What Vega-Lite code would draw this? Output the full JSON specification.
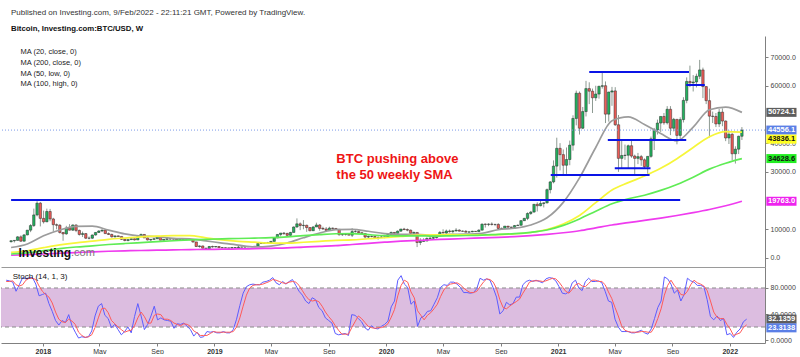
{
"$schema": "https://vega.github.io/schema/vega-lite/v6.json",
"background": "white",
"padding": {"left": 0, "top": 9, "right": 0, "bottom": 0},
"autosize": {"type": "pad"},
"spacing": 0,
"config": {"font": "Liberation Sans", "view": {"stroke": null}},
"title": {"text": "Published on Investing.com, 9/Feb/2022 - 22:11:21 GMT, Powered by TradingView.", "subtitle": "Bitcoin, Investing.com:BTC/USD, W", "anchor": "start", "frame": "group", "dx": 10, "fontSize": 8, "fontWeight": "normal", "color": "#333", "subtitleFontSize": 7.8, "subtitleFontWeight": "bold", "subtitleColor": "#111", "subtitlePadding": 8, "offset": 3, "font": "Liberation Sans", "subtitleFont": "Liberation Sans"},
"datasets": {
"candles": [
{"d":"2017-10-15","o":5680,"h":6190,"l":5400,"c":6000,"k":92,"s":90},
{"d":"2017-10-22","o":6000,"h":6200,"l":5400,"c":6130,"k":91,"s":90},
{"d":"2017-10-29","o":6130,"h":7600,"l":6100,"c":7360,"k":89,"s":91},
{"d":"2017-11-05","o":7360,"h":7880,"l":5600,"c":5860,"k":75,"s":85},
{"d":"2017-11-12","o":5860,"h":8300,"l":5700,"c":8040,"k":85,"s":83},
{"d":"2017-11-19","o":8040,"h":9740,"l":7900,"c":9700,"k":96,"s":85},
{"d":"2017-11-26","o":9700,"h":11800,"l":9000,"c":11300,"k":94,"s":92},
{"d":"2017-12-03","o":11300,"h":17200,"l":10800,"c":15000,"k":96,"s":95},
{"d":"2017-12-10","o":15000,"h":19800,"l":14500,"c":19100,"k":96,"s":95},
{"d":"2017-12-17","o":19100,"h":19500,"l":11000,"c":13800,"k":86,"s":93},
{"d":"2017-12-24","o":13800,"h":16500,"l":12000,"c":12600,"k":68,"s":83},
{"d":"2017-12-31","o":12600,"h":17200,"l":12500,"c":16200,"k":70,"s":75},
{"d":"2018-01-07","o":16200,"h":17100,"l":12800,"c":13600,"k":72,"s":70},
{"d":"2018-01-14","o":13600,"h":14000,"l":9200,"c":11600,"k":56,"s":66},
{"d":"2018-01-21","o":11600,"h":12000,"l":10000,"c":11400,"k":44,"s":57},
{"d":"2018-01-28","o":11400,"h":11800,"l":8500,"c":8900,"k":30,"s":43},
{"d":"2018-02-04","o":8900,"h":9000,"l":6000,"c":8400,"k":23,"s":32},
{"d":"2018-02-11","o":8400,"h":11200,"l":8100,"c":10400,"k":30,"s":28},
{"d":"2018-02-18","o":10400,"h":11800,"l":9600,"c":9700,"k":27,"s":27},
{"d":"2018-02-25","o":9700,"h":11700,"l":9400,"c":11500,"k":39,"s":32},
{"d":"2018-03-04","o":11500,"h":11700,"l":9000,"c":9600,"k":22,"s":29},
{"d":"2018-03-11","o":9600,"h":9900,"l":7800,"c":8200,"k":12,"s":24},
{"d":"2018-03-18","o":8200,"h":9200,"l":7300,"c":8500,"k":3,"s":12},
{"d":"2018-03-25","o":8500,"h":8700,"l":6600,"c":6900,"k":5,"s":7},
{"d":"2018-04-01","o":6900,"h":7500,"l":6500,"c":6900,"k":4,"s":4},
{"d":"2018-04-08","o":6900,"h":8200,"l":6600,"c":8000,"k":5,"s":5},
{"d":"2018-04-15","o":8000,"h":9000,"l":7800,"c":8900,"k":14,"s":8},
{"d":"2018-04-22","o":8900,"h":9700,"l":8700,"c":9400,"k":37,"s":19},
{"d":"2018-04-29","o":9400,"h":9950,"l":9000,"c":9700,"k":52,"s":34},
{"d":"2018-05-06","o":9700,"h":9900,"l":8400,"c":8500,"k":56,"s":48},
{"d":"2018-05-13","o":8500,"h":8900,"l":8000,"c":8200,"k":38,"s":49},
{"d":"2018-05-20","o":8200,"h":8500,"l":7100,"c":7400,"k":33,"s":42},
{"d":"2018-05-27","o":7400,"h":7800,"l":7100,"c":7700,"k":19,"s":30},
{"d":"2018-06-03","o":7700,"h":7800,"l":7400,"c":7500,"k":24,"s":25},
{"d":"2018-06-10","o":7500,"h":7500,"l":6300,"c":6500,"k":16,"s":20},
{"d":"2018-06-17","o":6500,"h":6800,"l":5800,"c":6100,"k":8,"s":16},
{"d":"2018-06-24","o":6100,"h":6400,"l":5800,"c":6400,"k":13,"s":12},
{"d":"2018-07-01","o":6400,"h":6800,"l":6300,"c":6700,"k":20,"s":14},
{"d":"2018-07-08","o":6700,"h":6800,"l":6100,"c":6300,"k":11,"s":15},
{"d":"2018-07-15","o":6300,"h":7500,"l":6300,"c":7400,"k":36,"s":22},
{"d":"2018-07-22","o":7400,"h":8500,"l":7400,"c":8200,"k":56,"s":34},
{"d":"2018-07-29","o":8200,"h":8300,"l":7000,"c":7000,"k":37,"s":43},
{"d":"2018-08-05","o":7000,"h":7100,"l":6100,"c":6300,"k":16,"s":36},
{"d":"2018-08-12","o":6300,"h":6600,"l":5900,"c":6500,"k":24,"s":26},
{"d":"2018-08-19","o":6500,"h":7000,"l":6300,"c":6700,"k":37,"s":26},
{"d":"2018-08-26","o":6700,"h":7400,"l":6600,"c":7300,"k":52,"s":38},
{"d":"2018-09-02","o":7300,"h":7400,"l":6200,"c":6200,"k":31,"s":40},
{"d":"2018-09-09","o":6200,"h":6600,"l":6100,"c":6500,"k":34,"s":39},
{"d":"2018-09-16","o":6500,"h":6800,"l":6200,"c":6700,"k":31,"s":32},
{"d":"2018-09-23","o":6700,"h":6800,"l":6400,"c":6600,"k":30,"s":32},
{"d":"2018-09-30","o":6600,"h":6700,"l":6500,"c":6600,"k":29,"s":30},
{"d":"2018-10-07","o":6600,"h":6700,"l":6100,"c":6300,"k":18,"s":26},
{"d":"2018-10-14","o":6300,"h":6800,"l":6300,"c":6500,"k":25,"s":24},
{"d":"2018-10-21","o":6500,"h":6600,"l":6400,"c":6400,"k":24,"s":22},
{"d":"2018-10-28","o":6400,"h":6500,"l":6300,"c":6400,"k":26,"s":25},
{"d":"2018-11-04","o":6400,"h":6600,"l":6300,"c":6400,"k":21,"s":24},
{"d":"2018-11-11","o":6400,"h":6500,"l":5300,"c":5600,"k":16,"s":21},
{"d":"2018-11-18","o":5600,"h":5600,"l":3800,"c":4000,"k":6,"s":14},
{"d":"2018-11-25","o":4000,"h":4400,"l":3600,"c":4200,"k":12,"s":11},
{"d":"2018-12-02","o":4200,"h":4300,"l":3300,"c":3400,"k":4,"s":7},
{"d":"2018-12-09","o":3400,"h":3600,"l":3200,"c":3250,"k":5,"s":7},
{"d":"2018-12-16","o":3250,"h":4200,"l":3200,"c":4000,"k":13,"s":7},
{"d":"2018-12-23","o":4000,"h":4300,"l":3600,"c":3850,"k":12,"s":10},
{"d":"2018-12-30","o":3850,"h":4100,"l":3700,"c":4000,"k":13,"s":13},
{"d":"2019-01-06","o":4000,"h":4100,"l":3500,"c":3600,"k":11,"s":12},
{"d":"2019-01-13","o":3600,"h":3800,"l":3500,"c":3550,"k":11,"s":12},
{"d":"2019-01-20","o":3550,"h":3650,"l":3450,"c":3500,"k":13,"s":12},
{"d":"2019-01-27","o":3500,"h":3550,"l":3400,"c":3450,"k":11,"s":12},
{"d":"2019-02-03","o":3450,"h":3700,"l":3400,"c":3650,"k":11,"s":12},
{"d":"2019-02-10","o":3650,"h":3700,"l":3550,"c":3620,"k":16,"s":13},
{"d":"2019-02-17","o":3620,"h":4200,"l":3600,"c":3800,"k":32,"s":20},
{"d":"2019-02-24","o":3800,"h":3900,"l":3700,"c":3800,"k":53,"s":34},
{"d":"2019-03-03","o":3800,"h":3950,"l":3700,"c":3900,"k":72,"s":52},
{"d":"2019-03-10","o":3900,"h":4000,"l":3850,"c":3980,"k":82,"s":69},
{"d":"2019-03-17","o":3980,"h":4100,"l":3900,"c":3990,"k":85,"s":80},
{"d":"2019-03-24","o":3990,"h":4150,"l":3900,"c":4100,"k":86,"s":84},
{"d":"2019-03-31","o":4100,"h":5300,"l":4100,"c":5050,"k":85,"s":85},
{"d":"2019-04-07","o":5050,"h":5450,"l":4950,"c":5100,"k":85,"s":85},
{"d":"2019-04-14","o":5100,"h":5400,"l":5000,"c":5300,"k":89,"s":86},
{"d":"2019-04-21","o":5300,"h":5600,"l":5100,"c":5300,"k":90,"s":88},
{"d":"2019-04-28","o":5300,"h":5900,"l":5200,"c":5800,"k":92,"s":90},
{"d":"2019-05-05","o":5800,"h":7000,"l":5700,"c":7000,"k":96,"s":93},
{"d":"2019-05-12","o":7000,"h":8300,"l":6900,"c":8200,"k":88,"s":92},
{"d":"2019-05-19","o":8200,"h":8700,"l":7500,"c":8700,"k":85,"s":90},
{"d":"2019-05-26","o":8700,"h":9000,"l":8000,"c":8550,"k":90,"s":88},
{"d":"2019-06-02","o":8550,"h":8800,"l":7500,"c":7900,"k":86,"s":87},
{"d":"2019-06-09","o":7900,"h":9100,"l":7500,"c":8900,"k":90,"s":89},
{"d":"2019-06-16","o":8900,"h":11000,"l":8900,"c":10800,"k":93,"s":90},
{"d":"2019-06-23","o":10800,"h":13800,"l":10500,"c":11900,"k":84,"s":89},
{"d":"2019-06-30","o":11900,"h":12400,"l":9700,"c":11300,"k":75,"s":84},
{"d":"2019-07-07","o":11300,"h":13200,"l":10000,"c":11400,"k":69,"s":76},
{"d":"2019-07-14","o":11400,"h":11600,"l":9100,"c":10600,"k":60,"s":68},
{"d":"2019-07-21","o":10600,"h":10800,"l":9300,"c":9500,"k":56,"s":62},
{"d":"2019-07-28","o":9500,"h":11100,"l":9400,"c":10800,"k":65,"s":60},
{"d":"2019-08-04","o":10800,"h":12300,"l":10800,"c":11500,"k":62,"s":61},
{"d":"2019-08-11","o":11500,"h":11800,"l":9500,"c":10300,"k":50,"s":59},
{"d":"2019-08-18","o":10300,"h":10900,"l":9800,"c":10100,"k":45,"s":52},
{"d":"2019-08-25","o":10100,"h":10800,"l":9400,"c":9600,"k":34,"s":43},
{"d":"2019-09-01","o":9600,"h":10900,"l":9600,"c":10400,"k":30,"s":36},
{"d":"2019-09-08","o":10400,"h":10600,"l":9900,"c":10300,"k":26,"s":30},
{"d":"2019-09-15","o":10300,"h":10400,"l":9900,"c":10000,"k":10,"s":22},
{"d":"2019-09-22","o":10000,"h":10100,"l":7800,"c":8100,"k":8,"s":15},
{"d":"2019-09-29","o":8100,"h":8500,"l":7700,"c":8200,"k":9,"s":9},
{"d":"2019-10-06","o":8200,"h":8700,"l":7800,"c":8300,"k":10,"s":9},
{"d":"2019-10-13","o":8300,"h":8400,"l":7900,"c":7950,"k":7,"s":9},
{"d":"2019-10-20","o":7950,"h":10400,"l":7300,"c":9200,"k":39,"s":19},
{"d":"2019-10-27","o":9200,"h":9800,"l":8900,"c":9200,"k":38,"s":28},
{"d":"2019-11-03","o":9200,"h":9500,"l":8700,"c":8800,"k":33,"s":37},
{"d":"2019-11-10","o":8800,"h":9100,"l":8400,"c":8500,"k":28,"s":33},
{"d":"2019-11-17","o":8500,"h":8600,"l":6800,"c":7300,"k":19,"s":27},
{"d":"2019-11-24","o":7300,"h":7800,"l":6600,"c":7500,"k":15,"s":21},
{"d":"2019-12-01","o":7500,"h":7800,"l":7200,"c":7500,"k":22,"s":19},
{"d":"2019-12-08","o":7500,"h":7700,"l":7100,"c":7100,"k":18,"s":18},
{"d":"2019-12-15","o":7100,"h":7500,"l":6400,"c":7200,"k":17,"s":19},
{"d":"2019-12-22","o":7200,"h":7700,"l":7000,"c":7300,"k":21,"s":19},
{"d":"2019-12-29","o":7300,"h":7400,"l":6900,"c":7350,"k":24,"s":21},
{"d":"2020-01-05","o":7350,"h":8500,"l":7300,"c":8200,"k":29,"s":25},
{"d":"2020-01-12","o":8200,"h":9200,"l":8100,"c":8900,"k":51,"s":35},
{"d":"2020-01-19","o":8900,"h":9000,"l":8200,"c":8600,"k":60,"s":47},
{"d":"2020-01-26","o":8600,"h":9600,"l":8500,"c":9350,"k":92,"s":68},
{"d":"2020-02-02","o":9350,"h":10100,"l":9100,"c":10100,"k":99,"s":84},
{"d":"2020-02-09","o":10100,"h":10500,"l":9700,"c":9900,"k":86,"s":92},
{"d":"2020-02-16","o":9900,"h":10300,"l":9300,"c":9700,"k":81,"s":89},
{"d":"2020-02-23","o":9700,"h":9900,"l":8500,"c":8600,"k":55,"s":74},
{"d":"2020-03-01","o":8600,"h":9200,"l":8400,"c":8900,"k":60,"s":65},
{"d":"2020-03-08","o":8900,"h":8900,"l":3800,"c":5400,"k":21,"s":45},
{"d":"2020-03-15","o":5400,"h":6900,"l":4500,"c":5800,"k":34,"s":38},
{"d":"2020-03-22","o":5800,"h":6900,"l":5700,"c":5900,"k":37,"s":31},
{"d":"2020-03-29","o":5900,"h":7200,"l":5900,"c":6800,"k":44,"s":38},
{"d":"2020-04-05","o":6800,"h":7500,"l":6700,"c":6900,"k":45,"s":42},
{"d":"2020-04-12","o":6900,"h":7300,"l":6500,"c":7100,"k":55,"s":48},
{"d":"2020-04-19","o":7100,"h":7800,"l":6800,"c":7700,"k":65,"s":55},
{"d":"2020-04-26","o":7700,"h":9400,"l":7600,"c":8900,"k":81,"s":67},
{"d":"2020-05-03","o":8900,"h":10000,"l":8600,"c":8700,"k":85,"s":77},
{"d":"2020-05-10","o":8700,"h":9900,"l":8100,"c":9400,"k":84,"s":83},
{"d":"2020-05-17","o":9400,"h":9900,"l":8800,"c":9200,"k":89,"s":86},
{"d":"2020-05-24","o":9200,"h":9700,"l":8600,"c":9450,"k":89,"s":87},
{"d":"2020-05-31","o":9450,"h":10400,"l":9200,"c":9700,"k":86,"s":88},
{"d":"2020-06-07","o":9700,"h":10000,"l":9200,"c":9350,"k":81,"s":85},
{"d":"2020-06-14","o":9350,"h":9600,"l":9200,"c":9300,"k":73,"s":80},
{"d":"2020-06-21","o":9300,"h":9700,"l":8900,"c":9000,"k":73,"s":76},
{"d":"2020-06-28","o":9000,"h":9300,"l":8900,"c":9100,"k":72,"s":73},
{"d":"2020-07-05","o":9100,"h":9500,"l":9000,"c":9300,"k":73,"s":73},
{"d":"2020-07-12","o":9300,"h":9300,"l":9100,"c":9200,"k":79,"s":75},
{"d":"2020-07-19","o":9200,"h":10000,"l":9100,"c":9700,"k":95,"s":82},
{"d":"2020-07-26","o":9700,"h":12000,"l":9600,"c":11800,"k":92,"s":89},
{"d":"2020-08-02","o":11800,"h":12000,"l":10600,"c":11700,"k":94,"s":94},
{"d":"2020-08-09","o":11700,"h":12100,"l":11100,"c":11800,"k":92,"s":93},
{"d":"2020-08-16","o":11800,"h":12400,"l":11300,"c":11700,"k":80,"s":89},
{"d":"2020-08-23","o":11700,"h":11800,"l":11100,"c":11700,"k":66,"s":79},
{"d":"2020-08-30","o":11700,"h":12100,"l":10000,"c":10300,"k":40,"s":62},
{"d":"2020-09-06","o":10300,"h":10600,"l":9900,"c":10300,"k":45,"s":50},
{"d":"2020-09-13","o":10300,"h":11100,"l":10200,"c":11100,"k":58,"s":48},
{"d":"2020-09-20","o":11100,"h":11100,"l":10200,"c":10750,"k":54,"s":52},
{"d":"2020-09-27","o":10750,"h":10900,"l":10400,"c":10650,"k":56,"s":56},
{"d":"2020-10-04","o":10650,"h":11500,"l":10500,"c":11300,"k":66,"s":59},
{"d":"2020-10-11","o":11300,"h":11700,"l":11200,"c":11400,"k":66,"s":63},
{"d":"2020-10-18","o":11400,"h":13200,"l":11300,"c":13000,"k":85,"s":72},
{"d":"2020-10-25","o":13000,"h":14000,"l":12900,"c":13800,"k":90,"s":80},
{"d":"2020-11-01","o":13800,"h":15900,"l":13200,"c":15500,"k":92,"s":89},
{"d":"2020-11-08","o":15500,"h":16400,"l":15000,"c":16000,"k":90,"s":91},
{"d":"2020-11-15","o":16000,"h":18800,"l":15800,"c":18700,"k":92,"s":91},
{"d":"2020-11-22","o":18700,"h":19400,"l":16200,"c":18200,"k":90,"s":91},
{"d":"2020-11-29","o":18200,"h":19900,"l":18000,"c":19000,"k":88,"s":90},
{"d":"2020-12-06","o":19000,"h":19400,"l":17600,"c":19200,"k":94,"s":91},
{"d":"2020-12-13","o":19200,"h":24200,"l":19000,"c":23800,"k":96,"s":93},
{"d":"2020-12-20","o":23800,"h":26800,"l":22500,"c":26500,"k":95,"s":95},
{"d":"2020-12-27","o":26500,"h":34000,"l":26000,"c":32000,"k":91,"s":94},
{"d":"2021-01-03","o":32000,"h":41900,"l":28000,"c":38200,"k":82,"s":89},
{"d":"2021-01-10","o":38200,"h":40000,"l":30500,"c":36000,"k":72,"s":82},
{"d":"2021-01-17","o":36000,"h":37800,"l":28800,"c":32300,"k":71,"s":75},
{"d":"2021-01-24","o":32300,"h":38500,"l":29300,"c":34300,"k":74,"s":72},
{"d":"2021-01-31","o":34300,"h":40900,"l":32300,"c":39300,"k":88,"s":78},
{"d":"2021-02-07","o":39300,"h":49700,"l":37400,"c":48600,"k":92,"s":85},
{"d":"2021-02-14","o":48600,"h":58300,"l":46200,"c":57400,"k":80,"s":87},
{"d":"2021-02-21","o":57400,"h":58000,"l":43000,"c":45200,"k":76,"s":83},
{"d":"2021-02-28","o":45200,"h":52600,"l":44900,"c":51000,"k":90,"s":82},
{"d":"2021-03-07","o":51000,"h":61700,"l":49300,"c":59000,"k":95,"s":87},
{"d":"2021-03-14","o":59000,"h":61200,"l":53600,"c":58100,"k":90,"s":92},
{"d":"2021-03-21","o":58100,"h":59000,"l":50500,"c":55800,"k":90,"s":92},
{"d":"2021-03-28","o":55800,"h":60000,"l":54700,"c":57100,"k":91,"s":90},
{"d":"2021-04-04","o":57100,"h":60000,"l":55500,"c":59800,"k":88,"s":90},
{"d":"2021-04-11","o":59800,"h":64800,"l":59000,"c":60000,"k":75,"s":85},
{"d":"2021-04-18","o":60000,"h":61500,"l":47000,"c":50100,"k":60,"s":74},
{"d":"2021-04-25","o":50100,"h":57900,"l":47500,"c":57800,"k":58,"s":64},
{"d":"2021-05-02","o":57800,"h":59600,"l":53000,"c":58200,"k":32,"s":50},
{"d":"2021-05-09","o":58200,"h":59500,"l":46000,"c":46400,"k":20,"s":37},
{"d":"2021-05-16","o":46400,"h":49800,"l":30000,"c":34700,"k":13,"s":22},
{"d":"2021-05-23","o":34700,"h":40800,"l":31300,"c":35700,"k":13,"s":15},
{"d":"2021-05-30","o":35700,"h":39500,"l":34200,"c":35800,"k":13,"s":13},
{"d":"2021-06-06","o":35800,"h":39500,"l":31100,"c":39100,"k":11,"s":12},
{"d":"2021-06-13","o":39100,"h":41300,"l":34900,"c":35500,"k":11,"s":12},
{"d":"2021-06-20","o":35500,"h":36000,"l":28800,"c":34700,"k":13,"s":12},
{"d":"2021-06-27","o":34700,"h":36600,"l":32700,"c":35300,"k":15,"s":13},
{"d":"2021-07-04","o":35300,"h":35900,"l":32100,"c":34200,"k":11,"s":13},
{"d":"2021-07-11","o":34200,"h":34700,"l":31100,"c":31800,"k":9,"s":12},
{"d":"2021-07-18","o":31800,"h":35400,"l":29300,"c":35400,"k":17,"s":12},
{"d":"2021-07-25","o":35400,"h":42300,"l":34900,"c":41500,"k":33,"s":20},
{"d":"2021-08-01","o":41500,"h":45300,"l":37600,"c":44600,"k":50,"s":33},
{"d":"2021-08-08","o":44600,"h":48200,"l":43000,"c":47000,"k":60,"s":48},
{"d":"2021-08-15","o":47000,"h":49300,"l":43900,"c":49300,"k":97,"s":69},
{"d":"2021-08-22","o":49300,"h":50500,"l":46400,"c":47100,"k":94,"s":84},
{"d":"2021-08-29","o":47100,"h":52900,"l":46500,"c":51800,"k":86,"s":92},
{"d":"2021-09-05","o":51800,"h":52900,"l":42800,"c":45200,"k":72,"s":84},
{"d":"2021-09-12","o":45200,"h":48800,"l":44100,"c":48300,"k":77,"s":78},
{"d":"2021-09-19","o":48300,"h":48300,"l":39600,"c":42700,"k":60,"s":70},
{"d":"2021-09-26","o":42700,"h":49000,"l":40800,"c":48200,"k":70,"s":69},
{"d":"2021-10-03","o":48200,"h":56000,"l":47200,"c":54900,"k":95,"s":75},
{"d":"2021-10-10","o":54900,"h":62900,"l":53900,"c":61500,"k":91,"s":85},
{"d":"2021-10-17","o":61500,"h":67000,"l":59500,"c":61000,"k":89,"s":92},
{"d":"2021-10-24","o":61000,"h":63700,"l":58000,"c":61300,"k":84,"s":88},
{"d":"2021-10-31","o":61300,"h":64200,"l":59400,"c":63300,"k":84,"s":86},
{"d":"2021-11-07","o":63300,"h":69000,"l":62300,"c":65500,"k":82,"s":83},
{"d":"2021-11-14","o":65500,"h":66300,"l":55700,"c":59700,"k":62,"s":76},
{"d":"2021-11-21","o":59700,"h":59800,"l":53600,"c":54800,"k":36,"s":60},
{"d":"2021-11-28","o":54800,"h":59000,"l":42000,"c":49400,"k":31,"s":43},
{"d":"2021-12-05","o":49400,"h":51000,"l":47000,"c":49300,"k":37,"s":35},
{"d":"2021-12-12","o":49300,"h":50500,"l":45600,"c":46700,"k":30,"s":33},
{"d":"2021-12-19","o":46700,"h":51900,"l":45600,"c":50800,"k":33,"s":33},
{"d":"2021-12-26","o":50800,"h":52100,"l":45900,"c":47700,"k":8,"s":24},
{"d":"2022-01-02","o":47700,"h":47900,"l":40700,"c":41800,"k":10,"s":17},
{"d":"2022-01-09","o":41800,"h":44400,"l":39700,"c":43100,"k":4,"s":7},
{"d":"2022-01-16","o":43100,"h":43500,"l":34100,"c":36300,"k":12,"s":9},
{"d":"2022-01-23","o":36300,"h":38900,"l":32900,"c":37900,"k":17,"s":11},
{"d":"2022-01-30","o":37900,"h":42600,"l":36200,"c":42400,"k":28,"s":19},
{"d":"2022-02-06","o":42400,"h":45600,"l":41100,"c":44556.1,"k":32.1359,"s":23.3138}
],
"ma": [
{"d":"2017-10-15","m20":3645,"m200":950,"m50":1992,"m100":1391},
{"d":"2017-11-19","m20":4875,"m200":1150,"m50":2531,"m100":1768},
{"d":"2017-12-24","m20":7725,"m200":1400,"m50":3591,"m100":2594},
{"d":"2018-01-28","m20":9765,"m200":1650,"m50":4553,"m100":3294},
{"d":"2018-03-04","m20":11010,"m200":1900,"m50":5296,"m100":3827},
{"d":"2018-04-08","m20":11080,"m200":2150,"m50":5874,"m100":4241},
{"d":"2018-05-13","m20":9725,"m200":2350,"m50":6517,"m100":4693},
{"d":"2018-06-17","m20":8400,"m200":2500,"m50":6955,"m100":5047},
{"d":"2018-07-22","m20":7670,"m200":2620,"m50":7336,"m100":5371},
{"d":"2018-08-26","m20":7435,"m200":2720,"m50":7602,"m100":5703},
{"d":"2018-09-30","m20":6830,"m200":2820,"m50":7774,"m100":6016},
{"d":"2018-11-04","m20":6670,"m200":2920,"m50":7788,"m100":6310},
{"d":"2018-12-09","m20":5943,"m200":3000,"m50":7026,"m100":6507},
{"d":"2019-01-13","m20":5203,"m200":3070,"m50":6316,"m100":6661},
{"d":"2019-02-17","m20":4474,"m200":3150,"m50":5822,"m100":6788},
{"d":"2019-03-24","m20":3862,"m200":3250,"m50":5507,"m100":6928},
{"d":"2019-04-28","m20":4167,"m200":3380,"m50":5156,"m100":7095},
{"d":"2019-06-02","m20":5235,"m200":3530,"m50":5194,"m100":7372},
{"d":"2019-07-07","m20":7049,"m200":3800,"m50":5488,"m100":7820},
{"d":"2019-08-11","m20":8695,"m200":4050,"m50":5812,"m100":8168},
{"d":"2019-09-15","m20":9888,"m200":4300,"m50":6156,"m100":8452},
{"d":"2019-10-20","m20":9958,"m200":4700,"m50":6298,"m100":8516},
{"d":"2019-11-24","m20":9308,"m200":5100,"m50":6702,"m100":8116},
{"d":"2019-12-29","m20":8495,"m200":5500,"m50":7044,"m100":7776},
{"d":"2020-02-02","m20":8233,"m200":5850,"m50":7520,"m100":7686},
{"d":"2020-03-08","m20":8270,"m200":6100,"m50":7933,"m100":7739},
{"d":"2020-04-12","m20":7830,"m200":6350,"m50":8032,"m100":7623},
{"d":"2020-05-17","m20":8203,"m200":6600,"m50":8118,"m100":7709},
{"d":"2020-06-21","m20":8285,"m200":6800,"m50":8088,"m100":7843},
{"d":"2020-07-26","m20":8615,"m200":7000,"m50":8040,"m100":7980},
{"d":"2020-08-30","m20":9850,"m200":7200,"m50":8150,"m100":8241},
{"d":"2020-10-04","m20":10360,"m200":7450,"m50":8404,"m100":8461},
{"d":"2020-11-08","m20":11505,"m200":7800,"m50":8888,"m100":8929},
{"d":"2020-12-13","m20":13995,"m200":8250,"m50":9928,"m100":9741},
{"d":"2021-01-17","m20":19385,"m200":8800,"m50":11820,"m100":11358},
{"d":"2021-02-21","m20":27920,"m200":9500,"m50":14790,"m100":13611},
{"d":"2021-03-28","m20":38485,"m200":10500,"m50":19264,"m100":16279},
{"d":"2021-05-02","m20":47835,"m200":11500,"m50":23706,"m100":18899},
{"d":"2021-06-06","m20":49170,"m200":12300,"m50":26256,"m100":20595},
{"d":"2021-07-11","m20":46505,"m200":13100,"m50":28534,"m100":21864},
{"d":"2021-08-15","m20":43345,"m200":13900,"m50":31226,"m100":23533},
{"d":"2021-09-19","m20":40805,"m200":14800,"m50":34590,"m100":25606},
{"d":"2021-10-24","m20":45565,"m200":15800,"m50":38506,"m100":28144},
{"d":"2021-11-28","m20":51625,"m200":16900,"m50":42234,"m100":30946},
{"d":"2022-01-02","m20":52550,"m200":18200,"m50":44014,"m100":33016},
{"d":"2022-02-06","m20":50724.1,"m200":19763,"m50":43836.1,"m100":34628.6}
],
"levels": [
{"a":"2017-10-15","b":"2021-09-26","p":20200},
{"a":"2020-12-21","b":"2021-07-22","p":28900},
{"a":"2021-05-08","b":"2021-07-24","p":31240},
{"a":"2021-04-23","b":"2021-10-09","p":41100},
{"a":"2021-03-14","b":"2021-10-15","p":64800},
{"a":"2021-10-09","b":"2021-11-18","p":60250}
],
"ptags": [
{"tag":"50724.1","v":50724.1},
{"tag":"44556.1","v":44556.1},
{"tag":"43836.1","v":43836.1},
{"tag":"34628.6","v":34628.6},
{"tag":"19763.0","v":19763}
],
"stags": [
{"tag":"32.1359","v":32.1359},
{"tag":"23.3138","v":23.3138}
]
},
"vconcat": [
{
"width": 764, "height": 231,
"layer": [
{"data": {"name": "candles"},
 "mark": {"type": "rule", "color": "#8d9a92", "strokeWidth": 1},
 "encoding": {
  "x": {"field": "d", "type": "temporal", "title": null,
   "scale": {"type": "utc", "domain": [{"year": 2017, "month": 10, "date": 4, "utc": true}, {"year": 2022, "month": 3, "date": 17, "utc": true}]},
   "axis": {"orient": "bottom", "labels": false, "ticks": false, "domain": true, "domainColor": "#9a9a9a", "grid": false, "title": null}},
  "y": {"field": "l", "type": "quantitative", "title": null,
   "scale": {"domain": [-3135, 77320], "nice": false, "zero": false},
   "axis": {"orient": "right", "values": [0, 10000, 30000, 40000, 60000, 70000], "tickCount": 20, "format": ".1f", "tickSize": 3, "labelPadding": 2, "labelFontSize": 7, "labelFont": "Liberation Sans", "labelColor": "#444", "domainColor": "#808080", "tickColor": "#808080", "grid": false, "title": null, "labelOverlap": false, "labelBound": false}},
  "y2": {"field": "h"}
 }},
{"data": {"name": "candles"},
 "mark": {"type": "bar", "size": 2.4, "stroke": "#2b2b2b", "strokeWidth": 0.5},
 "encoding": {
  "x": {"field": "d", "type": "temporal", "title": null},
  "y": {"field": "o", "type": "quantitative", "title": null},
  "y2": {"field": "c"},
  "color": {"condition": {"test": "datum.c >= datum.o", "value": "#22b35e"}, "value": "#ee5c57"}
 }},
{"data": {"name": "ma"},
 "transform": [{"fold": ["m20", "m200", "m50", "m100"], "as": ["ma", "val"]}],
 "mark": {"type": "line", "interpolate": "monotone", "strokeWidth": 1.7},
 "encoding": {
  "x": {"field": "d", "type": "temporal", "title": null},
  "y": {"field": "val", "type": "quantitative", "title": null},
  "color": {"field": "ma", "type": "nominal",
   "scale": {"domain": ["m20", "m200", "m50", "m100"], "range": ["#9c9c9c", "#ef3bef", "#f6f63a", "#5fec55"]},
   "legend": {"title": null, "orient": "none", "legendX": 12, "legendY": 12, "padding": 0, "symbolSize": 0, "symbolOpacity": 0, "symbolStrokeWidth": 0, "labelOffset": 0, "labelFontSize": 7.5, "labelFont": "Liberation Sans", "labelColor": "#222", "rowPadding": 1.9,
    "labelExpr": "datum.label == 'm20' ? 'MA (20, close, 0)' : datum.label == 'm200' ? 'MA (200, close, 0)' : datum.label == 'm50' ? 'MA (50, low, 0)' : 'MA (100, high, 0)'"}}
 }},
{"data": {"name": "levels"},
 "mark": {"type": "rule", "color": "#0a14e6", "strokeWidth": 2},
 "encoding": {
  "x": {"field": "a", "type": "temporal", "title": null},
  "x2": {"field": "b"},
  "y": {"field": "p", "type": "quantitative", "title": null}
 }},
{"data": {"values": [{}]},
 "mark": {"type": "rule", "color": "#7d9be8", "strokeDash": [1, 2], "strokeWidth": 1},
 "encoding": {"y": {"datum": 44556.1, "type": "quantitative"}}},
{"data": {"values": [{}]},
 "mark": {"type": "text", "text": ["BTC pushing above", "the 50 weekly SMA"], "align": "left", "baseline": "middle", "lineHeight": 15.5, "fontSize": 13, "fontWeight": "bold", "color": "#ee1515", "font": "Liberation Sans"},
 "encoding": {
  "x": {"datum": {"year": 2019, "month": 9, "date": 16, "utc": true}, "type": "temporal"},
  "y": {"datum": 34480, "type": "quantitative"}
 }},
{"data": {"values": [{}]},
 "mark": {"type": "text", "text": "Investing", "align": "left", "baseline": "middle", "fontSize": 12, "fontWeight": "bold", "color": "#111", "font": "Liberation Sans"},
 "encoding": {
  "x": {"datum": {"year": 2017, "month": 10, "date": 31, "utc": true}, "type": "temporal"},
  "y": {"datum": 1740, "type": "quantitative"}
 }},
{"data": {"values": [{}]},
 "mark": {"type": "text", "text": ".com", "align": "left", "baseline": "middle", "fontSize": 11, "color": "#777", "font": "Liberation Sans"},
 "encoding": {
  "x": {"datum": {"year": 2018, "month": 2, "date": 21, "utc": true}, "type": "temporal"},
  "y": {"datum": 1740, "type": "quantitative"}
 }},
{"data": {"name": "ptags"},
 "transform": [{"filter": {"not": {"field": "tag", "equal": "43836.1"}}}],
 "mark": {"type": "point", "shape": "M0.3,-1H7V1H0.3Z", "size": 81, "filled": true, "opacity": 1, "strokeWidth": 0},
 "encoding": {
  "x": {"value": "width"},
  "y": {"field": "v", "type": "quantitative", "title": null},
  "fill": {"field": "tag", "type": "nominal", "legend": null,
   "scale": {"domain": ["50724.1", "44556.1", "43836.1", "34628.6", "19763.0"], "range": ["#5d5d5d", "#5b7fe6", "#ffff22", "#22ee22", "#ee22ee"]}}
 }},
{"data": {"name": "ptags"},
 "transform": [{"filter": {"field": "tag", "equal": "43836.1"}}],
 "mark": {"type": "point", "shape": "M0.3,0.556H7V2.556H0.3Z", "size": 81, "filled": true, "opacity": 1, "strokeWidth": 0},
 "encoding": {
  "x": {"value": "width"},
  "y": {"field": "v", "type": "quantitative", "title": null},
  "fill": {"field": "tag", "type": "nominal", "legend": null}
 }},
{"data": {"name": "ptags"},
 "transform": [{"filter": {"field": "tag", "oneOf": ["50724.1", "44556.1", "19763.0"]}}],
 "mark": {"type": "text", "align": "left", "baseline": "middle", "dx": 3, "fontSize": 7.5, "fontWeight": "bold", "color": "white", "font": "Liberation Sans"},
 "encoding": {
  "x": {"value": "width"},
  "y": {"field": "v", "type": "quantitative", "title": null},
  "text": {"field": "tag"}
 }},
{"data": {"name": "ptags"},
 "transform": [{"filter": {"field": "tag", "equal": "34628.6"}}],
 "mark": {"type": "text", "align": "left", "baseline": "middle", "dx": 3, "fontSize": 7.5, "fontWeight": "bold", "color": "#111", "font": "Liberation Sans"},
 "encoding": {
  "x": {"value": "width"},
  "y": {"field": "v", "type": "quantitative", "title": null},
  "text": {"field": "tag"}
 }},
{"data": {"name": "ptags"},
 "transform": [{"filter": {"field": "tag", "equal": "43836.1"}}],
 "mark": {"type": "text", "align": "left", "baseline": "middle", "dx": 3, "dy": 7, "fontSize": 7.5, "fontWeight": "bold", "color": "#111", "font": "Liberation Sans"},
 "encoding": {
  "x": {"value": "width"},
  "y": {"field": "v", "type": "quantitative", "title": null},
  "text": {"field": "tag"}
 }}
]
},
{
"width": 764, "height": 76,
"layer": [
{"data": {"values": [{}]},
 "mark": {"type": "rect", "color": "#dcbde0"},
 "encoding": {
  "x": {"datum": {"year": 2017, "month": 10, "date": 4, "utc": true}, "type": "temporal",
   "scale": {"type": "utc", "domain": [{"year": 2017, "month": 10, "date": 4, "utc": true}, {"year": 2022, "month": 3, "date": 17, "utc": true}]}},
  "x2": {"datum": {"year": 2022, "month": 3, "date": 17, "utc": true}},
  "y": {"datum": 20, "type": "quantitative", "scale": {"domain": [-4.6, 112.3], "nice": false, "zero": false}},
  "y2": {"datum": 80}
 }},
{"data": {"values": [{}]},
 "mark": {"type": "rule", "color": "#8a8a8a", "strokeDash": [4, 3], "strokeWidth": 1},
 "encoding": {"y": {"datum": 20, "type": "quantitative"}}},
{"data": {"values": [{}]},
 "mark": {"type": "rule", "color": "#8a8a8a", "strokeDash": [4, 3], "strokeWidth": 1},
 "encoding": {"y": {"datum": 80, "type": "quantitative"}}},
{"data": {"name": "candles"},
 "mark": {"type": "line", "color": "#5c5cff", "strokeWidth": 1},
 "encoding": {
  "x": {"field": "d", "type": "temporal", "title": null,
   "axis": {"orient": "bottom", "title": null, "grid": false, "tickSize": 3, "labelPadding": 1, "labelFontSize": 7, "labelFont": "Liberation Sans", "labelColor": "#333", "domainColor": "#808080", "tickColor": "#808080", "labelOverlap": false, "labelFlush": false, "tickCount": 30,
    "values": [{"year": 2018, "month": 1, "date": 1, "utc": true}, {"year": 2018, "month": 5, "date": 1, "utc": true}, {"year": 2018, "month": 9, "date": 1, "utc": true}, {"year": 2019, "month": 1, "date": 1, "utc": true}, {"year": 2019, "month": 5, "date": 1, "utc": true}, {"year": 2019, "month": 9, "date": 1, "utc": true}, {"year": 2020, "month": 1, "date": 1, "utc": true}, {"year": 2020, "month": 5, "date": 1, "utc": true}, {"year": 2020, "month": 9, "date": 1, "utc": true}, {"year": 2021, "month": 1, "date": 1, "utc": true}, {"year": 2021, "month": 5, "date": 1, "utc": true}, {"year": 2021, "month": 9, "date": 1, "utc": true}, {"year": 2022, "month": 1, "date": 1, "utc": true}],
    "labelExpr": "utcFormat(datum.value, '%m') == '01' ? utcFormat(datum.value, '%Y') : utcFormat(datum.value, '%b')",
    "labelFontWeight": {"condition": {"test": "utcFormat(datum.value, '%m') == '01'", "value": "bold"}, "value": "normal"}}},
  "y": {"field": "k", "type": "quantitative", "title": null,
   "axis": {"orient": "right", "values": [0, 40, 80], "tickCount": 10, "format": ".4f", "tickSize": 3, "labelPadding": 2, "labelFontSize": 7, "labelFont": "Liberation Sans", "labelColor": "#444", "domainColor": "#808080", "tickColor": "#808080", "grid": false, "title": null, "labelOverlap": false, "labelBound": false}}
 }},
{"data": {"name": "candles"},
 "mark": {"type": "line", "color": "#ff5a5a", "strokeWidth": 1},
 "encoding": {
  "x": {"field": "d", "type": "temporal", "title": null},
  "y": {"field": "s", "type": "quantitative", "title": null}
 }},
{"data": {"values": [{}]},
 "mark": {"type": "text", "text": "Stoch (14, 1, 3)", "align": "left", "baseline": "middle", "fontSize": 8, "color": "#111", "font": "Liberation Sans"},
 "encoding": {
  "x": {"datum": {"year": 2017, "month": 10, "date": 29, "utc": true}, "type": "temporal"},
  "y": {"datum": 97, "type": "quantitative"}
 }},
{"data": {"name": "stags"},
 "transform": [{"filter": {"field": "tag", "equal": "32.1359"}}],
 "mark": {"type": "point", "shape": "M0.3,-1H7V1H0.3Z", "size": 81, "filled": true, "opacity": 1, "strokeWidth": 0},
 "encoding": {
  "x": {"value": "width"},
  "y": {"field": "v", "type": "quantitative", "title": null},
  "fill": {"field": "tag", "type": "nominal", "legend": null, "scale": {"domain": ["32.1359", "23.3138"], "range": ["#1414ff", "#ff1414"]}}
 }},
{"data": {"name": "stags"},
 "transform": [{"filter": {"field": "tag", "equal": "23.3138"}}],
 "mark": {"type": "point", "shape": "M0.3,-0.333H7V1.667H0.3Z", "size": 81, "filled": true, "opacity": 1, "strokeWidth": 0},
 "encoding": {
  "x": {"value": "width"},
  "y": {"field": "v", "type": "quantitative", "title": null},
  "fill": {"field": "tag", "type": "nominal", "legend": null}
 }},
{"data": {"name": "stags"},
 "transform": [{"filter": {"field": "tag", "equal": "32.1359"}}],
 "mark": {"type": "text", "align": "left", "baseline": "middle", "dx": 3, "fontSize": 7.5, "fontWeight": "bold", "color": "white", "font": "Liberation Sans"},
 "encoding": {
  "x": {"value": "width"},
  "y": {"field": "v", "type": "quantitative", "title": null},
  "text": {"field": "tag"}
 }},
{"data": {"name": "stags"},
 "transform": [{"filter": {"field": "tag", "equal": "23.3138"}}],
 "mark": {"type": "text", "align": "left", "baseline": "middle", "dx": 3, "dy": 3, "fontSize": 7.5, "fontWeight": "bold", "color": "white", "font": "Liberation Sans"},
 "encoding": {
  "x": {"value": "width"},
  "y": {"field": "v", "type": "quantitative", "title": null},
  "text": {"field": "tag"}
 }}
]
}
]
}
